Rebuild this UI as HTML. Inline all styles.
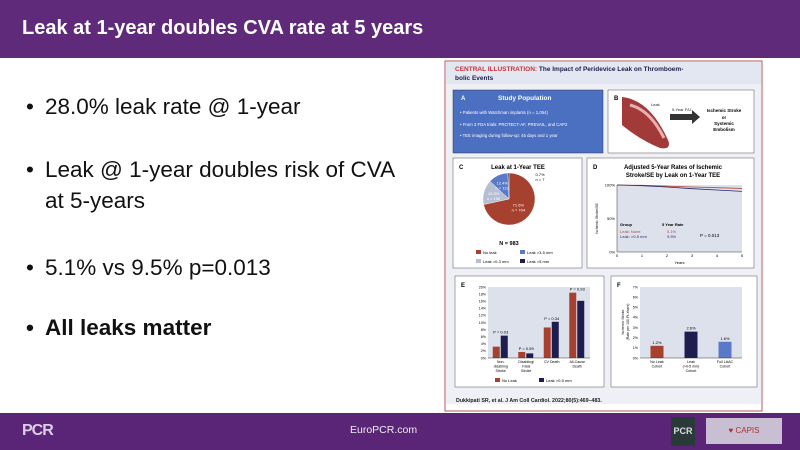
<!DOCTYPE html>
<html><head><meta charset="utf-8"><style>
body{margin:0;width:800px;height:450px;overflow:hidden;background:#fff;font-family:"Liberation Sans",sans-serif;position:relative}
.hdr{position:absolute;left:0;top:0;width:800px;height:58px;background:#5f2a7a}
.hdr h1{margin:0;position:absolute;left:22px;top:17px;font-size:20px;color:#fff;font-weight:bold}
.ftr{position:absolute;left:0;top:413px;width:800px;height:37px;background:#5a2577}
.b{position:absolute;left:26px;font-size:22.5px;color:#111;line-height:31px}
.b span{position:absolute;left:0}
.b div{margin-left:19px}
svg text{font-family:"Liberation Sans",sans-serif}
</style></head><body>
<div class="hdr"><h1>Leak at 1-year doubles CVA rate at 5 years</h1></div>
<div class="b" style="top:91px"><span>•</span><div>28.0% leak rate @ 1-year</div></div>
<div class="b" style="top:154px"><span>•</span><div>Leak @ 1-year doubles risk of CVA<br>at 5-years</div></div>
<div class="b" style="top:252px"><span>•</span><div>5.1% vs 9.5% p=0.013</div></div>
<div class="b" style="top:312px;font-weight:bold"><span>•</span><div>All leaks matter</div></div>

<svg width="800" height="450" style="position:absolute;left:0;top:0">
<rect x="445" y="61" width="317" height="350" fill="#fff" stroke="#b85a5a" stroke-width="1"/>
<rect x="446" y="62" width="315" height="22" fill="#e3e7f1"/>
<text x="455" y="71" font-size="6.5" font-weight="bold" fill="#c8323a">CENTRAL ILLUSTRATION: <tspan fill="#1d1d4a">The Impact of Peridevice Leak on Thromboem-</tspan></text>
<text x="455" y="80" font-size="6.5" font-weight="bold" fill="#1d1d4a">bolic Events</text>
<rect x="446" y="84" width="315" height="320" fill="#eef0f6"/>
<!-- A -->
<rect x="453" y="90" width="150" height="63" fill="#4b6fc1" stroke="#334" stroke-width="0.5"/>
<text x="461" y="100" font-size="6" font-weight="bold" fill="#fff">A</text>
<text x="498" y="100" font-size="6.5" font-weight="bold" fill="#fff">Study Population</text>
<text x="460" y="114" font-size="4.3" fill="#fff">• Patients with Watchman implants (n = 1,054)</text>
<text x="460" y="126" font-size="4.3" fill="#fff">• From 3 FDA trials: PROTECT-AF, PREVAIL, and CAP2</text>
<text x="460" y="137" font-size="4.3" fill="#fff">• TEE imaging during follow-up: 45 days and 1 year</text>
<!-- B -->
<rect x="608" y="90" width="146" height="63" fill="#fff" stroke="#555" stroke-width="0.5"/>
<text x="614" y="100" font-size="6" font-weight="bold">B</text>
<path d="M622 97 Q650 100 668 140 Q672 150 660 148 Q640 140 622 125 Z" fill="#a33a3a"/>
<path d="M630 105 Q650 110 664 138" stroke="#e9b0b0" stroke-width="3" fill="none"/>
<text x="651" y="106" font-size="4" fill="#222">Leak</text>
<text x="672" y="111" font-size="4" fill="#222">5-Year F/U</text>
<path d="M670 114 h22 v-4 l8 7 l-8 7 v-4 h-22 Z" fill="#333"/>
<text x="724" y="112" font-size="4.5" font-weight="bold" text-anchor="middle">Ischemic Stroke</text>
<text x="724" y="119" font-size="4.5" font-weight="bold" text-anchor="middle">or</text>
<text x="724" y="125" font-size="4.5" font-weight="bold" text-anchor="middle">Systemic</text>
<text x="724" y="131" font-size="4.5" font-weight="bold" text-anchor="middle">Embolism</text>
<!-- C -->
<rect x="453" y="158" width="129" height="110" fill="#fff" stroke="#555" stroke-width="0.5"/>
<text x="459" y="169" font-size="6" font-weight="bold">C</text>
<text x="518" y="169" font-size="6" font-weight="bold" text-anchor="middle">Leak at 1-Year TEE</text>
<g id="pie"></g>
<text x="509" y="245" font-size="5.5" font-weight="bold" text-anchor="middle">N = 983</text>
<rect x="476" y="250" width="5" height="4" fill="#a6402f"/><text x="483" y="254" font-size="4">No leak</text>
<rect x="520" y="250" width="5" height="4" fill="#5b79c9"/><text x="527" y="254" font-size="4">Leak &gt;3-5 mm</text>
<rect x="476" y="259" width="5" height="4" fill="#b6bed3"/><text x="483" y="263" font-size="4">Leak &gt;0-3 mm</text>
<rect x="520" y="259" width="5" height="4" fill="#1d1d4f"/><text x="527" y="263" font-size="4">Leak &gt;5 mm</text>
<!-- D -->
<rect x="587" y="158" width="167" height="110" fill="#fff" stroke="#555" stroke-width="0.5"/>
<text x="593" y="169" font-size="6" font-weight="bold">D</text>
<text x="673" y="169" font-size="6" font-weight="bold" text-anchor="middle">Adjusted 5-Year Rates of Ischemic</text>
<text x="673" y="177" font-size="6" font-weight="bold" text-anchor="middle">Stroke/SE by Leak on 1-Year TEE</text>
<g id="km"></g>
<!-- E -->
<rect x="455" y="276" width="149" height="111" fill="#fff" stroke="#555" stroke-width="0.5"/>
<text x="461" y="287" font-size="6" font-weight="bold">E</text>
<g id="barE"></g>
<rect x="495" y="378" width="5" height="4" fill="#a6402f"/><text x="502" y="382" font-size="4">No Leak</text>
<rect x="539" y="378" width="5" height="4" fill="#1d1d4f"/><text x="546" y="382" font-size="4">Leak &gt;0-5 mm</text>
<!-- F -->
<rect x="611" y="276" width="146" height="111" fill="#fff" stroke="#555" stroke-width="0.5"/>
<text x="617" y="287" font-size="6" font-weight="bold">F</text>
<text transform="translate(624,322) rotate(-90)" font-size="3.5" text-anchor="middle">Ischemic Stroke</text>
<text transform="translate(629,322) rotate(-90)" font-size="3.5" text-anchor="middle">(Rate per 100 Pt-Years)</text>
<g id="barF"></g>
<text x="456" y="402" font-size="5.3" font-weight="bold" fill="#222">Dukkipati SR, et al. J Am Coll Cardiol. 2022;80(5):469–483.</text>
</svg>

<div class="ftr">
<div style="position:absolute;left:22px;top:9px;color:#d9d0e3;font-size:16px;font-weight:bold;letter-spacing:-1px">PCR</div>
<div style="position:absolute;left:350px;top:11px;color:#eee;font-size:10.5px">EuroPCR.com</div>
<div style="position:absolute;left:671px;top:4px;width:24px;height:29px;background:#2a3a3a;color:#ddd;font-size:9px;font-weight:bold;line-height:29px;text-align:center">PCR</div>
<div style="position:absolute;left:706px;top:5px;width:76px;height:26px;background:#c9bfd2;color:#a33;font-size:8px;line-height:26px;text-align:center">♥ CAPIS</div>
</div>

<script>
const NS="http://www.w3.org/2000/svg";
function mk(parent,tag,attrs,txt){const e=document.createElementNS(NS,tag);for(const k in attrs)e.setAttribute(k,attrs[k]);if(txt!==undefined)e.textContent=txt;parent.appendChild(e);return e;}

// Pie data (clockwise from top)
const pieLabels=["No leak","Leak >0-3 mm","Leak >3-5 mm","Leak >5 mm"];
const pieValues=[71.6,15.3,12.4,0.7];
const pieCounts=[704,150,122,7];
const pieColors=["#a6402f","#b6bed3","#5b79c9","#1d1d4f"];
(function(){
  const g=document.getElementById("pie"),cx=509,cy=199,r=26;
  const tot=pieValues.reduce((a,b)=>a+b,0);
  let ang=-Math.PI/2;
  const labelPos=[];
  pieValues.forEach((v,i)=>{
    const sw=v/tot*Math.PI*2;const a1=ang+sw;
    const p=mk(g,"path",{d:`M${cx},${cy} L${cx+r*Math.cos(ang)},${cy+r*Math.sin(ang)} A${r},${r} 0 ${sw>Math.PI?1:0} 1 ${cx+r*Math.cos(a1)},${cy+r*Math.sin(a1)} Z`,fill:pieColors[i],stroke:"#fff","stroke-width":0.4});
    
    
    labelPos.push((ang+a1)/2);
    ang=a1;
  });
  for(let i=0;i<3;i++){
    const m=labelPos[i],rr=i==0?12:16;
    const lx=cx+rr*Math.cos(m),ly=cy+rr*Math.sin(m);
    mk(g,"text",{x:lx,y:ly,"font-size":4,fill:"#fff","text-anchor":"middle"},pieValues[i]+"%");
    mk(g,"text",{x:lx,y:ly+5,"font-size":4,fill:"#fff","text-anchor":"middle"},"n = "+pieCounts[i]);
  }
  mk(g,"text",{x:540,y:176,"font-size":4,"text-anchor":"middle"},pieValues[3]+"%");
  mk(g,"text",{x:540,y:181,"font-size":4,"text-anchor":"middle"},"n = "+pieCounts[3]);
})();

// KM data
const kmYears=[0,1,2,3,4,5];
const kmNone=[100,99.5,98.2,97,96,94.9];
const kmLeak=[100,99,97,94.5,92.5,90.5];
const kmTicks=[0,50,100];
(function(){
  const g=document.getElementById("km");
  const x0=617,x1=742,y0=252,y1=185;
  const X=t=>x0+(t-0)/(5)*(x1-x0), Y=v=>y0-(v/100)*(y0-y1);
  mk(g,"rect",{x:x0,y:y1,width:x1-x0,height:y0-y1,fill:"#dde1ec"});
  kmTicks.forEach(t=>{mk(g,"text",{x:x0-2,y:Y(t)+1.5,"font-size":4,"text-anchor":"end"},t+"%");});
  kmYears.forEach(t=>{mk(g,"text",{x:X(t),y:y0+5,"font-size":4,"text-anchor":"middle"},t);});
  mk(g,"text",{x:(x0+x1)/2,y:y0+12,"font-size":4,"text-anchor":"middle"},"Years");
  mk(g,"text",{transform:`translate(598,${(y0+y1)/2}) rotate(-90)`,"font-size":3.5,"text-anchor":"middle"},"Ischemic Stroke/SE");
  mk(g,"line",{x1:x0,y1:y0,x2:x1,y2:y0,stroke:"#333","stroke-width":0.5});
  mk(g,"line",{x1:x0,y1:y1,x2:x0,y2:y0,stroke:"#333","stroke-width":0.5});
  const l1=mk(g,"polyline",{points:kmYears.map((t,i)=>X(t)+","+Y(kmNone[i])).join(" "),fill:"none",stroke:"#b04a3a","stroke-width":0.8});
  
  
  const l2=mk(g,"polyline",{points:kmYears.map((t,i)=>X(t)+","+Y(kmLeak[i])).join(" "),fill:"none",stroke:"#2a2a6a","stroke-width":0.8});
  
  
  mk(g,"text",{x:620,y:226,"font-size":4,"font-weight":"bold"},"Group");
  mk(g,"text",{x:662,y:226,"font-size":4,"font-weight":"bold"},"5 Year Rate");
  mk(g,"text",{x:620,y:233,"font-size":4,fill:"#b04a3a"},"Leak: None");
  mk(g,"text",{x:620,y:238,"font-size":4,fill:"#2a2a6a"},"Leak: >0-5 mm");
  mk(g,"text",{x:667,y:233,"font-size":4,fill:"#b04a3a"},"5.1%");
  mk(g,"text",{x:667,y:238,"font-size":4,fill:"#2a2a6a"},"9.5%");
  mk(g,"text",{x:700,y:237,"font-size":4.5},"P = 0.013");
})();

// Bar E data
const eCats=[["Non-","disabling","Stroke"],["Disabling/","Fatal","Stroke"],["CV Death"],["All-Cause","Death"]];
const eNoLeak=[3.2,1.7,8.6,18.4];
const eLeak=[6.3,1.3,10.2,16.1];
const ePvals=["P = 0.03","P = 0.59","P = 0.34","P = 0.93"];
const eTicks=[0,2,4,6,8,10,12,14,16,18,20];
(function(){
  const g=document.getElementById("barE");
  const x0=488,x1=590,y0=358,y1=287;
  const Y=v=>y0-v/20*(y0-y1);const bw=(x1-x0)/eCats.length;
  mk(g,"rect",{x:x0,y:y1,width:x1-x0,height:y0-y1,fill:"#dde1ec"});
  eTicks.forEach(t=>mk(g,"text",{x:x0-2,y:Y(t)+1.3,"font-size":3.6,"text-anchor":"end"},t+"%"));
  eCats.forEach((c,i)=>{
    const cx=x0+bw*(i+0.5);
    const r1=mk(g,"rect",{x:cx-8,y:Y(eNoLeak[i]),width:7,height:y0-Y(eNoLeak[i]),fill:"#a6402f"});
    
    
    const r2=mk(g,"rect",{x:cx,y:Y(eLeak[i]),width:7,height:y0-Y(eLeak[i]),fill:"#1d1d4f"});
    
    
    mk(g,"text",{x:cx,y:Y(Math.max(eNoLeak[i],eLeak[i]))-2,"font-size":4,"text-anchor":"middle"},ePvals[i]);
    c.forEach((s,j)=>mk(g,"text",{x:cx,y:y0+5+j*4.5,"font-size":3.6,"text-anchor":"middle"},s));
  });
  mk(g,"line",{x1:x0,y1:y0,x2:x1,y2:y0,stroke:"#333","stroke-width":0.5});
})();

// Bar F data
const fCats=[["No Leak","Cohort"],["Leak","(>0-5 mm)","Cohort"],["Full LAAC","Cohort"]];
const fValues=[1.2,2.6,1.6];
const fColors=["#a6402f","#1d1d4f","#5b79c9"];
const fTicks=[0,1,2,3,4,5,6,7];
(function(){
  const g=document.getElementById("barF");
  const x0=640,x1=742,y0=358,y1=287;
  const Y=v=>y0-v/7*(y0-y1);const bw=(x1-x0)/fCats.length;
  mk(g,"rect",{x:x0,y:y1,width:x1-x0,height:y0-y1,fill:"#dde1ec"});
  fTicks.forEach(t=>mk(g,"text",{x:x0-2,y:Y(t)+1.3,"font-size":3.6,"text-anchor":"end"},t+"%"));
  fCats.forEach((c,i)=>{
    const cx=x0+bw*(i+0.5);
    const r=mk(g,"rect",{x:cx-6.5,y:Y(fValues[i]),width:13,height:y0-Y(fValues[i]),fill:fColors[i]});
    
    
    mk(g,"text",{x:cx,y:Y(fValues[i])-2,"font-size":4,"text-anchor":"middle"},fValues[i].toFixed(1)+"%");
    c.forEach((s,j)=>mk(g,"text",{x:cx,y:y0+5+j*4.5,"font-size":3.6,"text-anchor":"middle"},s));
  });
  mk(g,"line",{x1:x0,y1:y0,x2:x1,y2:y0,stroke:"#333","stroke-width":0.5});
})();
</script>
</body></html>
